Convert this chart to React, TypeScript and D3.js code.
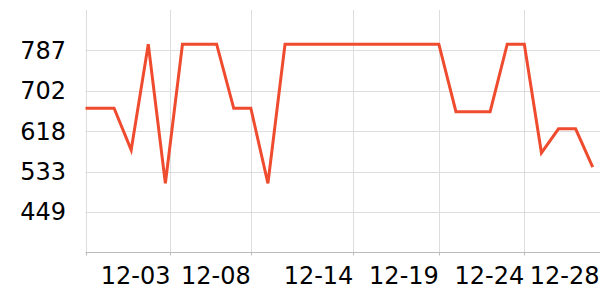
import React from "react";
import * as d3 from "d3";

const dates = [
  "2023-11-28", "2023-11-29", "2023-11-30", "2023-12-01", "2023-12-02", "2023-12-03",
  "2023-12-04", "2023-12-05", "2023-12-06", "2023-12-07", "2023-12-08", "2023-12-09",
  "2023-12-10", "2023-12-11", "2023-12-12", "2023-12-13", "2023-12-14", "2023-12-15",
  "2023-12-16", "2023-12-17", "2023-12-18", "2023-12-19", "2023-12-20", "2023-12-21",
  "2023-12-22", "2023-12-23", "2023-12-24", "2023-12-25", "2023-12-26", "2023-12-27",
  "2023-12-28",
];
const values = [
  666, 666, 666, 579, 800, 509,
  800, 800, 800, 666, 666, 509,
  800, 800, 800, 800, 800, 800,
  800, 800, 800, 800, 659, 659,
  659, 800, 800, 573, 623, 623,
  543,
];
const yTicks = [449, 533.5, 618, 702.5, 787];
const yTickLabels = ["449", "533", "618", "702", "787"];
const xDomain = ["2023-11-28T07:52", "2023-12-28T10:15"];
const xTicks = [
  "2023-11-28T07:52", "2023-12-03T07:12", "2023-12-08T00:00", "2023-12-14T00:00",
  "2023-12-19T00:00", "2023-12-24T00:00", "2023-12-28T10:15",
];
const xTickLabels = ["", "12-03", "12-08", "12-14", "12-19", "12-24", "12-28"];
const yDomain = [364.5, 871.5];

const W = 600;
const H = 300;
const M = { left: 85.5, right: 0, top: 10, bottom: 47.5 };

export default function App() {
  const parseDay = d3.timeParse("%Y-%m-%d");
  const parseDT = d3.timeParse("%Y-%m-%dT%H:%M");
  const x = d3
    .scaleTime()
    .domain(xDomain.map((s) => parseDT(s) as Date))
    .range([M.left, W - M.right]);
  const y = d3.scaleLinear().domain(yDomain).range([H - M.bottom, M.top]);
  const data = dates.map((d, i) => ({ d: parseDay(d) as Date, v: values[i] }));
  const line = d3
    .line<{ d: Date; v: number }>()
    .x((p) => x(p.d))
    .y((p) => y(p.v));
  const font = "DejaVu Sans, sans-serif";
  const fs = 24;
  const y0 = H - M.bottom;
  return (
    <svg
      width={W}
      height={H}
      style={{ position: "absolute", left: 0, top: 0, background: "#fff" }}
    >
      <defs>
        <clipPath id="plot">
          <rect x={M.left} y={M.top - 5} width={W - M.left} height={y0 - M.top + 5} />
        </clipPath>
      </defs>
      {yTicks.map((t, i) => (
        <line
          key={"yg" + i}
          x1={M.left}
          x2={W}
          y1={Math.round(y(t)) + 0.5}
          y2={Math.round(y(t)) + 0.5}
          stroke="#dddddd"
          strokeWidth={1}
        />
      ))}
      {xTicks.map((t, i) => {
        const xx = Math.round(x(parseDT(t) as Date)) + 0.5;
        return (
          <g key={"xg" + i}>
            <line x1={xx} x2={xx} y1={M.top} y2={y0} stroke="#dddddd" strokeWidth={1} />
            <line x1={xx} x2={xx} y1={y0} y2={y0 + 3} stroke="#bbbbbb" strokeWidth={1} />
          </g>
        );
      })}
      <line x1={M.left} x2={W} y1={y0} y2={y0} stroke="#bbbbbb" strokeWidth={1} />
      <path
        d={line(data) || ""}
        fill="none"
        stroke="#ef4b2f"
        strokeWidth={3}
        clipPath="url(#plot)"
      />
      {yTicks.map((t, i) => (
        <text
          key={"yl" + i}
          x={66}
          y={y(t)}
          dy="0.35em"
          textAnchor="end"
          fontFamily={font}
          fontSize={fs}
          fill="#000"
        >
          {yTickLabels[i]}
        </text>
      ))}
      {xTicks.map((t, i) => (
        <text
          key={"xl" + i}
          x={Math.min(x(parseDT(t) as Date), 599.5)}
          y={283.5}
          textAnchor="end"
          fontFamily={font}
          fontSize={fs}
          fill="#000"
        >
          {xTickLabels[i]}
        </text>
      ))}
    </svg>
  );
}
